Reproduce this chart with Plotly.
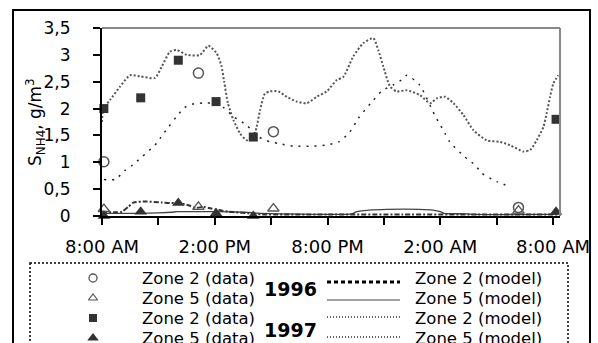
import plotly.graph_objects as go

W, H = 598, 343

# ---------------- data (hours after 8:00 AM) ----------------
x_tick_vals = [0, 3, 6, 9, 12, 15, 18, 21, 24]
x_tick_text = ["8:00 AM", "", "2:00 PM", "", "8:00 PM", "", "2:00 AM", "", "8:00 AM"]
y_tick_vals = [0, 0.5, 1, 1.5, 2, 2.5, 3, 3.5]
y_tick_text = ["0", "0,5", "1", "1,5", "2", "2,5", "3", "3,5"]

# measured data
z2_96_data_t = [0.1, 5.13, 9.12, 22.16]
z2_96_data_v = [1.01, 2.66, 1.57, 0.16]
z5_96_data_t = [0.1, 5.13, 9.12, 22.16]
z5_96_data_v = [0.13, 0.17, 0.14, 0.10]
z2_97_data_t = [0.1, 2.06, 4.06, 6.07, 8.05, 24.16]
z2_97_data_v = [2.0, 2.2, 2.9, 2.13, 1.47, 1.80]
z5_97_data_t = [0.1, 2.06, 4.06, 6.07, 8.05, 24.16]
z5_97_data_v = [0.0, 0.08, 0.24, 0.05, 0.0, 0.08]

# model curves
z2_97_model_t = [0.0, 0.07, 0.43, 0.96, 1.49, 2.02, 2.82, 3.18, 3.62, 3.98, 4.51, 5.22,
                 5.66, 6.10, 6.35, 6.5, 6.7, 6.99, 7.34, 7.70, 8.05, 8.23, 8.41, 8.67,
                 8.94, 9.38, 9.83, 10.36, 10.89, 11.43, 11.96, 12.49, 12.84, 13.37, 13.91,
                 14.44, 14.70, 14.97, 15.33, 15.68, 16.22, 16.92, 17.46, 17.81, 18.25,
                 18.70, 19.23, 19.76, 20.47, 21.18, 21.71, 22.42, 22.78, 23.13, 23.49,
                 23.66, 23.84, 24.02, 24.28]
z2_97_model_v = [1.75, 2.0, 2.16, 2.41, 2.62, 2.6, 2.57, 2.78, 3.06, 3.09, 3.0, 3.0,
                 3.17, 3.03, 2.8, 2.5, 2.1, 1.79, 1.54, 1.41, 1.45, 1.66, 1.97, 2.28,
                 2.32, 2.32, 2.22, 2.13, 2.10, 2.22, 2.32, 2.53, 2.59, 2.97, 3.22,
                 3.31, 3.09, 2.78, 2.41, 2.32, 2.34, 2.25, 2.10, 2.19, 2.22,
                 2.10, 1.88, 1.60, 1.41, 1.38, 1.32, 1.20, 1.23, 1.41, 1.66,
                 1.91, 2.22, 2.47, 2.62]

z2_96_model_t = [0.1, 0.7, 1.2, 1.63, 2.9, 3.14, 4.4, 5.0, 5.4, 6.0, 6.46, 7.0, 7.7,
                 8.3, 8.94, 9.4, 10.2, 11.2, 11.9, 12.6, 13.2, 13.64, 14.3, 14.9, 15.5,
                 16.0, 16.22, 16.9, 17.7, 18.25, 18.5, 19.3, 19.85, 20.2, 21.0, 21.7]
z2_96_model_v = [0.68, 0.68, 0.84, 0.95, 1.35, 1.47, 2.02, 2.1, 2.1, 2.1, 2.02, 1.85, 1.69,
                 1.48, 1.38, 1.35, 1.30, 1.30, 1.32, 1.38, 1.57, 1.82, 2.1, 2.33, 2.44,
                 2.55, 2.62, 2.44, 1.88, 1.54, 1.38, 1.10, 0.95, 0.80, 0.64, 0.55]

z5_96_model_t = [0.0, 1.0, 2.0, 3.0, 3.7, 4.0, 5.8, 7.6, 8.5, 9.5, 13.3, 13.55, 14.2,
                 15.15, 16.9, 17.6, 18.0, 18.2, 19.4, 19.8, 24.3]
z5_96_model_v = [0.05, 0.05, 0.05, 0.06, 0.07, 0.08, 0.08, 0.07, 0.05, 0.04, 0.04, 0.08, 0.11,
                 0.125, 0.125, 0.11, 0.08, 0.05, 0.04, 0.03, 0.03]

z5_97_model_t = [0.0, 0.7, 1.05, 1.4, 1.67, 2.3, 3.18, 3.62, 4.06, 4.6, 5.0, 5.4, 5.8,
                 6.2, 6.72, 7.08, 7.78, 8.5, 12.0, 16.0, 20.0, 24.3]
z5_97_model_v = [0.08, 0.07, 0.08, 0.17, 0.25, 0.27, 0.25, 0.24, 0.24, 0.2, 0.15, 0.17, 0.14,
                 0.11, 0.08, 0.07, 0.05, 0.03, 0.03, 0.03, 0.03, 0.03]

data_labels = ["Zone 2 (data)", "Zone 5 (data)", "Zone 2 (data)", "Zone 5 (data)"]
model_labels = ["Zone 2 (model)", "Zone 5 (model)", "Zone 2 (model)", "Zone 5 (model)"]
year_labels = ["1996", "1997"]

# ---------------- helpers (pixel -> paper) ----------------
def px(x):
    return x / W


def py(y):
    return 1 - y / H


FONT = "DejaVu Sans"
fig = go.Figure()

# model lines
fig.add_trace(go.Scatter(x=z2_97_model_t, y=z2_97_model_v, mode="lines",
                         line=dict(color="#555555", width=2, dash="2px,2px", shape="spline", smoothing=0.6)))
fig.add_trace(go.Scatter(x=z2_96_model_t, y=z2_96_model_v, mode="lines",
                         line=dict(color="#222222", width=1.5, dash="2px,6px", shape="spline", smoothing=0.6)))
fig.add_trace(go.Scatter(x=z5_96_model_t, y=z5_96_model_v, mode="lines",
                         line=dict(color="#444444", width=1.3, shape="spline", smoothing=0.6)))
fig.add_trace(go.Scatter(x=z5_97_model_t, y=z5_97_model_v, mode="lines",
                         line=dict(color="#333333", width=2, dash="5px,2px,2px,2px", shape="spline", smoothing=0.6)))

# data markers
fig.add_trace(go.Scatter(x=z2_96_data_t, y=z2_96_data_v, mode="markers", cliponaxis=False,
                         marker=dict(symbol="circle-open", size=10, color="#555555", line=dict(width=1.5, color="#555555"))))
fig.add_trace(go.Scatter(x=z5_96_data_t, y=z5_96_data_v, mode="markers", cliponaxis=False,
                         marker=dict(symbol="triangle-up-open", size=10, color="#555555", line=dict(width=1.3, color="#555555"))))
fig.add_trace(go.Scatter(x=z2_97_data_t, y=z2_97_data_v, mode="markers", cliponaxis=False,
                         marker=dict(symbol="square", size=9, color="#333333")))
fig.add_trace(go.Scatter(x=z5_97_data_t, y=z5_97_data_v, mode="markers", cliponaxis=False,
                         marker=dict(symbol="triangle-up", size=11, color="#333333")))

# ---------------- legend (drawn on a pixel overlay axis) ----------------
leg_rows = [278, 298, 318, 338]
leg_line_rows = [282, 300, 317, 337]
leg_marker_x = 93
leg_marker_styles = [
    dict(symbol="circle-open", size=8, color="#555555", line=dict(width=1.3, color="#555555")),
    dict(symbol="triangle-up-open", size=8, color="#555555", line=dict(width=1.2, color="#555555")),
    dict(symbol="square", size=8, color="#333333"),
    dict(symbol="triangle-up", size=10, color="#333333"),
]
for r, st in zip(leg_rows, leg_marker_styles):
    fig.add_trace(go.Scatter(x=[leg_marker_x], y=[r], mode="markers", marker=st,
                             xaxis="x2", yaxis="y2", cliponaxis=False))

leg_line_styles = [
    dict(color="black", width=3, dash="4px,3px"),
    dict(color="#444444", width=1.2),
    dict(color="#333333", width=1.5, dash="1px,2px"),
    dict(color="#333333", width=1.5, dash="1px,2px"),
]
shapes = []
for r, st in zip(leg_line_rows, leg_line_styles):
    shapes.append(dict(type="line", xref="paper", yref="paper", x0=px(327), x1=px(400),
                       y0=py(r), y1=py(r), line=st))

# plot area top/right border (gray)
shapes.append(dict(type="line", xref="paper", yref="paper", x0=px(102), x1=px(560), y0=py(28), y1=py(28),
                   line=dict(color="#888888", width=2)))
shapes.append(dict(type="line", xref="paper", yref="paper", x0=px(560), x1=px(560), y0=py(28), y1=py(216),
                   line=dict(color="#888888", width=2)))
# outer chart frame
shapes.append(dict(type="rect", xref="paper", yref="paper", x0=px(13), x1=px(590), y0=py(10), y1=py(370),
                   line=dict(color="black", width=2)))
# legend dotted frame
shapes.append(dict(type="rect", xref="paper", yref="paper", x0=px(30), x1=px(568), y0=py(263), y1=py(380),
                   line=dict(color="black", width=1.5, dash="2px,2px")))

annotations = []
for r, t in zip(leg_rows, data_labels):
    annotations.append(dict(x=px(140), y=py(r), xref="paper", yref="paper", text=t, showarrow=False,
                            xanchor="left", yanchor="middle", font=dict(family=FONT, size=16.5, color="black")))
for r, t in zip(leg_rows, model_labels):
    annotations.append(dict(x=px(413), y=py(r), xref="paper", yref="paper", text=t, showarrow=False,
                            xanchor="left", yanchor="middle", font=dict(family=FONT, size=16.5, color="black")))
for yy, t in zip([289, 330], year_labels):
    annotations.append(dict(x=px(290), y=py(yy), xref="paper", yref="paper", text="<b>" + t + "</b>",
                            showarrow=False, xanchor="center", yanchor="middle",
                            font=dict(family=FONT, size=19, color="black")))
annotations.append(dict(x=px(35), y=py(122), xref="paper", yref="paper",
                        text="S<sub>NH4</sub>, g/m<sup>3</sup>", textangle=-90, showarrow=False,
                        xanchor="center", yanchor="middle", font=dict(family=FONT, size=17, color="black")))

fig.update_layout(
    width=W, height=H,
    margin=dict(l=0, r=0, t=0, b=0, pad=0, autoexpand=False),
    paper_bgcolor="white", plot_bgcolor="rgba(0,0,0,0)",
    showlegend=False,
    shapes=shapes,
    annotations=annotations,
    xaxis=dict(domain=[px(102), px(560)], range=[0, 24.37], tickvals=x_tick_vals, ticktext=x_tick_text,
               ticks="outside", ticklen=7, tickwidth=2, tickcolor="black", showline=True, linecolor="black",
               linewidth=2, showgrid=False, zeroline=False, ticklabelstandoff=6, automargin=False,
               tickfont=dict(family=FONT, size=18, color="black")),
    yaxis=dict(domain=[py(216), py(28)], range=[0, 3.5], tickvals=y_tick_vals, ticktext=y_tick_text,
               ticks="outside", ticklen=7, tickwidth=2, tickcolor="black", showline=True, linecolor="black",
               linewidth=2, showgrid=False, zeroline=False, ticklabelstandoff=19, automargin=False,
               tickfont=dict(family=FONT, size=17, color="black")),
    xaxis2=dict(domain=[0, 1], range=[0, W], visible=False, fixedrange=True, anchor="y2", automargin=False),
    yaxis2=dict(domain=[0, 1], range=[H, 0], visible=False, fixedrange=True, anchor="x2", automargin=False),
)

fig.write_html("out.html")
